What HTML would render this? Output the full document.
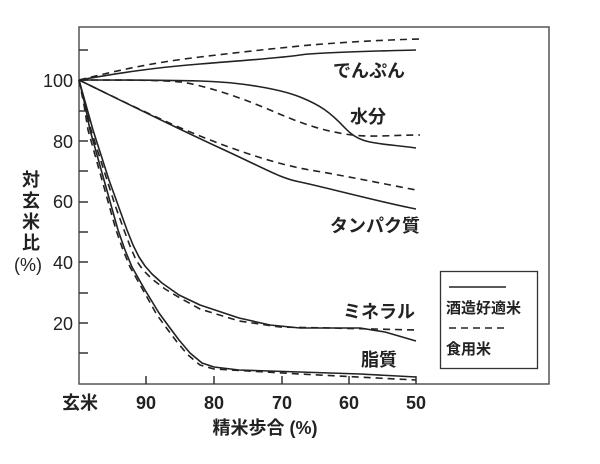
<!DOCTYPE html>
<html><head><meta charset="utf-8"><style>
body{margin:0;background:#fff;}
svg text{font-family:"Liberation Sans","Noto Sans CJK JP",sans-serif;fill:#222;}
</style></head><body>
<svg width="600" height="459" viewBox="0 0 600 459" xmlns="http://www.w3.org/2000/svg">
<rect x="79" y="27" width="470" height="357" fill="none" stroke="#555" stroke-width="1.5"/>
<g stroke="#333" stroke-width="1.5">
<line x1="79" y1="50" x2="88" y2="50"/><line x1="79" y1="80" x2="88" y2="80"/><line x1="79" y1="111" x2="88" y2="111"/><line x1="79" y1="141" x2="88" y2="141"/><line x1="79" y1="171" x2="88" y2="171"/><line x1="79" y1="202" x2="88" y2="202"/><line x1="79" y1="232" x2="88" y2="232"/><line x1="79" y1="262" x2="88" y2="262"/><line x1="79" y1="293" x2="88" y2="293"/><line x1="79" y1="323" x2="88" y2="323"/><line x1="79" y1="353" x2="88" y2="353"/>
<line x1="146" y1="384" x2="146" y2="376"/><line x1="214" y1="384" x2="214" y2="376"/><line x1="282" y1="384" x2="282" y2="376"/><line x1="349" y1="384" x2="349" y2="376"/><line x1="416" y1="384" x2="416" y2="376"/>
</g>
<g font-size="18" text-anchor="end">
<text x="73" y="87">100</text><text x="73" y="148">80</text><text x="73" y="208">60</text><text x="73" y="269">40</text><text x="73" y="330">20</text>
</g>
<g font-size="18" text-anchor="middle" font-weight="bold">
<text x="80" y="409">玄米</text><text x="146" y="409">90</text><text x="214" y="409">80</text><text x="282" y="409">70</text><text x="349" y="409">60</text><text x="416" y="409">50</text>
<text x="265" y="434">精米歩合 (%)</text>
<text x="31" y="186">対</text><text x="31" y="207">玄</text><text x="31" y="228">米</text><text x="31" y="249">比</text><text x="28" y="271" font-weight="normal">(%)</text>
</g>
<g fill="none" stroke="#222" stroke-width="1.6" stroke-linejoin="round">
<path d="M79,80 C120,73 150,68 200,64 S280,58 300,55 S380,51 416,50"/>
<path d="M79,80 C130,80 160,80 200,81 S280,89 300,97 S330,112 345,128 S370,142 416,148"/>
<path d="M79,80 C120,100 170,125 220,148 S280,178 300,182 S380,202 416,209"/>
<polyline points="79,80 86,105 93,130 101,155 109,180 118,205 127,230 133,245 139,257 145,266 152,274 162,283 179,295 200,305 239,318 270,325 300,328 340,328 360,328 385,332 416,341"/>
<polyline points="79,80 85,105 90,130 97,155 104,180 111,205 118,230 125,250 132,267 145,290 159,313 170,328 179,340 190,353 202,363 214,367 239,370 300,372 360,374 416,377"/>
</g>
<g fill="none" stroke="#222" stroke-width="1.6" stroke-dasharray="7,5" stroke-linejoin="round">
<path d="M79,80 C120,70 150,63 200,57 S270,49 300,46 S380,40 420,39"/>
<path d="M79,80 C130,80 160,80 180,82 S240,97 270,110 S320,130 345,134 S390,135 420,135"/>
<path d="M79,80 C110,95 160,120 200,136 S280,165 310,170 S380,183 416,190"/>
<polyline points="79,80 85,105 91,130 99,155 107,180 115,205 124,230 130,246 136,260 143,270 152,279 165,289 180,298 200,309 239,321 280,327 330,328 416,330"/>
<polyline points="79,80 84,105 88,130 95,155 102,180 109,205 116,230 123,250 130,267 143,290 157,315 168,330 177,342 188,355 200,365 214,369 300,374 416,380"/>
</g>
<g font-size="18" font-weight="bold">
<text x="333" y="77">でんぷん</text>
<text x="350" y="123">水分</text>
<text x="330" y="232">タンパク質</text>
<text x="343" y="318">ミネラル</text>
<text x="361" y="366">脂質</text>
</g>
<rect x="440.5" y="271.5" width="97" height="97" fill="#fff" stroke="#333" stroke-width="1.3"/>
<line x1="449" y1="287" x2="506" y2="287" stroke="#222" stroke-width="1.6"/>
<line x1="449" y1="328" x2="506" y2="328" stroke="#222" stroke-width="1.6" stroke-dasharray="7,5"/>
<g font-size="15" font-weight="bold"><text x="446" y="313">酒造好適米</text><text x="446" y="354">食用米</text></g>
</svg>
</body></html>
